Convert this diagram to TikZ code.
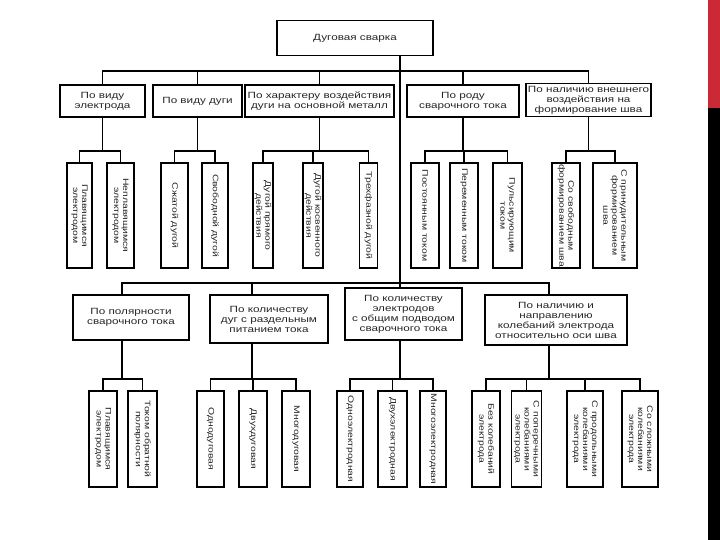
\documentclass[tikz,border=0pt]{standalone}
\usepackage{fontspec}
\setmainfont{Liberation Sans}[FakeStretch=1.3]
\usetikzlibrary{calc,positioning}
\definecolor{barred}{RGB}{204,41,54}
\def\leaflenA{105}
\def\leaflenB{96}

\begin{document}
\begin{tikzpicture}[x=1pt,y=-1pt,
    box/.style={draw, line width=1.3pt, align=center, inner sep=1pt,
      text=black!85, font=\fontsize{9}{10}\selectfont},
    leaf/.style={box, rotate=-90, font=\fontsize{8}{9}\selectfont},
    link/.style={line width=1.8pt}
  ]
  \useasboundingbox (0,0) rectangle (720,540);

  % side bar
  \fill[barred] (708,0) rectangle (720,108);
  \fill[black] (708,108) rectangle (720,540);

  \coordinate (hubA) at (400,71);
  \coordinate (hubB) at (400,283);
  \coordinate (lvlA) at (0,151);
  \coordinate (lvlB) at (0,379);

  \node[box, minimum width=156, minimum height=35] (root) at (355,38) {Дуговая сварка};

  % first row
  \node[box, minimum width=85, minimum height=32] (elec) at (102.5,101) {По виду\\электрода};
  \node[box, minimum width=89, minimum height=32] (arc) at (197.5,101) {По виду дуги};
  \node[box, minimum width=149, minimum height=32] (act) at (319.5,101) {По характеру воздействия\\дуги на основной металл};
  \node[box, minimum width=112, minimum height=32] (curr) at (463,101) {По роду\\сварочного тока};
  \node[box, minimum width=125, minimum height=33] (ext) at (588.5,100) {По наличию внешнего\\воздействия на\\формирование шва};

  \node[leaf, minimum width=\leaflenA, minimum height=25] (elec1) at (79.5,215.5) {Плавящимся\\электродом};
  \node[leaf, minimum width=\leaflenA, minimum height=27] (elec2) at (120.5,215.5) {Неплавящимся\\электродом};
  \node[leaf, minimum width=\leaflenA, minimum height=27] (arc1) at (174.5,215.5) {Сжатой дугой};
  \node[leaf, minimum width=\leaflenA, minimum height=26] (arc2) at (215,215.5) {Свободной дугой};
  \node[leaf, minimum width=\leaflenA, minimum height=20] (act1) at (263,215.5) {Дугой прямого\\действия};
  \node[leaf, minimum width=\leaflenA, minimum height=20] (act2) at (313,215.5) {Дугой косвенного\\действия};
  \node[leaf, minimum width=\leaflenA, minimum height=18] (act3) at (368.5,215.5) {Трехфазной дугой};
  \node[leaf, minimum width=\leaflenA, minimum height=28] (curr1) at (425,215.5) {Постоянным током};
  \node[leaf, minimum width=\leaflenA, minimum height=28] (curr2) at (464,215.5) {Переменным током};
  \node[leaf, minimum width=\leaflenA, minimum height=29] (curr3) at (507.5,215.5) {Пульсирующим\\током};
  \node[leaf, minimum width=\leaflenA, minimum height=28] (ext1) at (566,215.5) {Со свободным\\формированием шва};
  \node[leaf, minimum width=\leaflenA, minimum height=44] (ext2) at (615,215.5) {С принудительным\\формированием\\шва};

  % second row
  \node[box, minimum width=116, minimum height=45] (pol) at (131,317.5) {По полярности\\сварочного тока};
  \node[box, minimum width=118, minimum height=48] (narc) at (269,319) {По количеству\\дуг с раздельным\\питанием тока};
  \node[box, minimum width=117, minimum height=52] (nel) at (403.5,314) {По количеству\\электродов\\с общим подводом\\сварочного тока};
  \node[box, minimum width=142, minimum height=50] (osc) at (556,320) {По наличию и\\направлению\\колебаний электрода\\относительно оси шва};

  \node[leaf, minimum width=\leaflenB, minimum height=28] (pol1) at (103,439) {Плавящимся\\электродом};
  \node[leaf, minimum width=\leaflenB, minimum height=29] (pol2) at (142.5,439) {Током обратной\\полярности};
  \node[leaf, minimum width=\leaflenB, minimum height=27] (narc1) at (210.5,439) {Однодуговая};
  \node[leaf, minimum width=\leaflenB, minimum height=28] (narc2) at (253,439) {Двухдуговая};
  \node[leaf, minimum width=\leaflenB, minimum height=28] (narc3) at (296,439) {Многодуговая};
  \node[leaf, minimum width=\leaflenB, minimum height=26] (nel1) at (350,439) {Одноэлектродная};
  \node[leaf, minimum width=\leaflenB, minimum height=29] (nel2) at (392.5,439) {Двухэлектродная};
  \node[leaf, minimum width=\leaflenB, minimum height=26] (nel3) at (433,439) {Многоэлектродная};
  \node[leaf, minimum width=\leaflenB, minimum height=28] (osc1) at (486,439) {Без колебаний\\электрода};
  \node[leaf, minimum width=\leaflenB, minimum height=30] (osc2) at (526.5,439) {С поперечными\\колебаниями\\электрода};
  \node[leaf, minimum width=\leaflenB, minimum height=36] (osc3) at (585,439) {С продольными\\колебаниями\\электрода};
  \node[leaf, minimum width=\leaflenB, minimum height=36] (osc4) at (640,439) {Со сложными\\колебаниями\\электрода};

  % trunk and buses
  \coordinate (jPol) at (122,379);
  \coordinate (jNarc) at (252,379);
  \coordinate (jNel) at (400,379);
  \coordinate (jOsc) at (549,379);
  \draw[link] (hubA |- root.south) -- (hubA |- nel.north);
  \draw[link] (elec.north) |- (hubA) -| (ext.north);
  \draw[link] (arc.north) -- (arc.north |- hubA);
  \draw[link] (act.north) -- (act.north |- hubA);
  \draw[link] (curr.north) -- (curr.north |- hubA);
  \draw[link] (jPol |- pol.north) |- (hubB) -| (jOsc |- osc.north);
  \draw[link] (jNarc |- narc.north) -- (jNarc |- hubB);

  % first row groups
  \draw[link] (elec.south) -- (elec.south |- lvlA);
  \draw[link] (elec1.west) |- (elec.south |- lvlA) -| (elec2.west);
  \draw[link] (arc.south) -- (arc.south |- lvlA);
  \draw[link] (arc1.west) |- (arc.south |- lvlA) -| (arc2.west);
  \draw[link] (act.south) -- (act.south |- lvlA);
  \draw[link] (act1.west) |- (act.south |- lvlA) -| (act3.west);
  \draw[link] (act2.west) -- (act2.west |- lvlA);
  \draw[link] (curr.south) -- (curr.south |- lvlA);
  \draw[link] (curr1.west) |- (curr.south |- lvlA) -| (curr3.west);
  \draw[link] (curr2.west) -- (curr2.west |- lvlA);
  \draw[link] (ext.south) -- (ext.south |- lvlA);
  \draw[link] (ext1.west) |- (ext.south |- lvlA) -| (ext2.west);

  % second row groups
  \draw[link] (jPol |- pol.south) -- (jPol);
  \draw[link] (pol1.west) |- (jPol) -| (pol2.west);
  \draw[link] (jNarc |- narc.south) -- (jNarc);
  \draw[link] (narc1.west) |- (jNarc) -| (narc3.west);
  \draw[link] (narc2.west) -- (narc2.west |- jNarc);
  \draw[link] (jNel |- nel.south) -- (jNel);
  \draw[link] (nel1.west) |- (jNel) -| (nel3.west);
  \draw[link] (nel2.west) -- (nel2.west |- jNel);
  \draw[link] (jOsc |- osc.south) -- (jOsc);
  \draw[link] (osc1.west) |- (jOsc) -| (osc4.west);
  \draw[link] (osc2.west) -- (osc2.west |- jOsc);
  \draw[link] (osc3.west) -- (osc3.west |- jOsc);
\end{tikzpicture}
\end{document}
